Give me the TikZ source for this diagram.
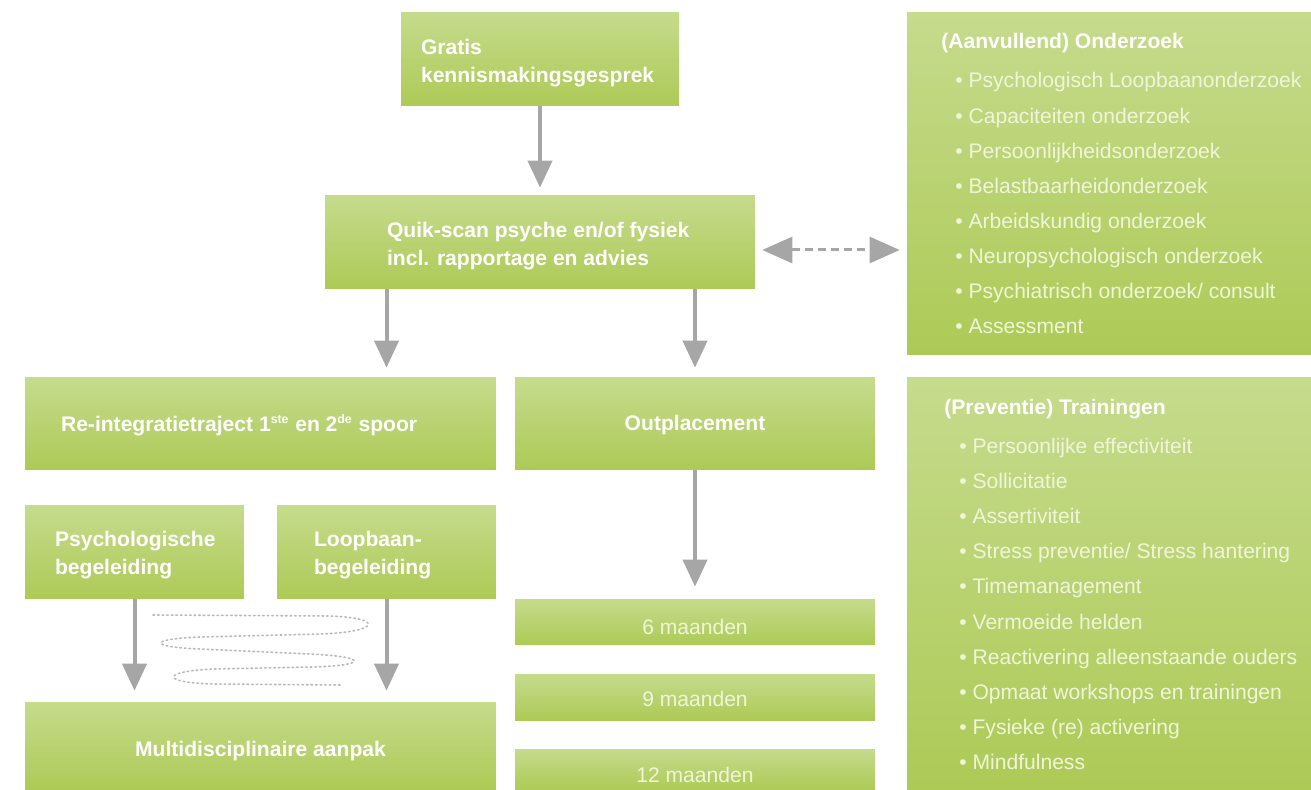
\documentclass[tikz,border=0pt]{standalone}
\usepackage{fontspec}
\setmainfont{Liberation Sans}
\usepackage{tikz}
\usetikzlibrary{arrows.meta,positioning}
\usepackage{xcolor}

\definecolor{boxtop}{RGB}{198,219,141}
\definecolor{boxbot}{RGB}{173,202,86}
\definecolor{arrowgray}{RGB}{166,166,166}
\definecolor{dotgray}{RGB}{185,185,185}
\definecolor{itemcol}{RGB}{240,245,218}

\newcommand{\basefont}{\fontsize{12}{16}\selectfont}

\tikzset{
  greenbox/.style={draw=none, inner sep=0pt, top color=boxtop, bottom color=boxbot},
  headtxt/.style={font=\basefont\bfseries, text=white, align=left, inner sep=0pt},
  lighttxt/.style={font=\basefont, text=itemcol, inner sep=0pt},
  itemtxt/.style={font=\basefont, text=itemcol, inner sep=0pt, anchor=base west},
  flow/.style={draw=arrowgray, line width=0.08cm, -{Triangle[length=0.54cm,width=0.48cm]}},
  dflow/.style={draw=arrowgray, line width=0.06cm, dash pattern=on 0.16cm off 0.1cm,
    {Triangle[length=0.6cm,width=0.52cm]}-{Triangle[length=0.6cm,width=0.52cm]}}
}

\begin{document}
\begin{tikzpicture}[x=0.02cm, y=-0.02cm]

\useasboundingbox (0,0) rectangle (1311,790);

% middle column
\node[greenbox, minimum width=5.56cm, minimum height=1.88cm] (gratis) at (540,59) {};
\node[headtxt, right=0.4cm of gratis.west, yshift=-0.08cm] (gratis-t) {Gratis\\kennismakingsgesprek};

\node[greenbox, minimum width=8.6cm, minimum height=1.88cm] (quik) at (540,242) {};
\node[headtxt, right=1.24cm of quik.west, yshift=-0.08cm] (quik-t) {Quik-scan psyche en/of fysiek\\incl. rapportage en advies};

\node[greenbox, minimum width=9.42cm, minimum height=1.86cm] (reint) at (260.5,423.5) {};
\node[headtxt, right=0.72cm of reint.west, yshift=-0.04cm] (reint-t) {Re-integratietraject 1\textsuperscript{\bfseries\scriptsize ste} en 2\textsuperscript{\bfseries\scriptsize de} spoor};

\node[greenbox, minimum width=7.2cm, minimum height=1.86cm] (outpl) at (695,423.5) {};
\node[headtxt] (outpl-t) at (695,425) {Outplacement};

\node[greenbox, minimum width=4.38cm, minimum height=1.88cm] (psych) at (134.5,552) {};
\node[headtxt, right=0.6cm of psych.west, yshift=-0.06cm] (psych-t) {Psychologische\\begeleiding};

\node[greenbox, minimum width=4.38cm, minimum height=1.88cm] (loopb) at (386.5,552) {};
\node[headtxt, right=0.74cm of loopb.west, yshift=-0.06cm] (loopb-t) {Loopbaan-\\begeleiding};

\node[greenbox, minimum width=9.42cm, minimum height=1.76cm] (multi) at (260.5,746) {};
\node[headtxt] (multi-t) at (260.5,751) {Multidisciplinaire aanpak};

\node[greenbox, minimum width=7.2cm, minimum height=0.92cm] (m6) at (695,622) {};
\node[lighttxt] (m6-t) at (695,627) {6 maanden};
\node[greenbox, minimum width=7.2cm, minimum height=0.92cm] (m9) at (695,697) {};
\node[lighttxt] (m9-t) at (695,699) {9 maanden};
\node[greenbox, minimum width=7.2cm, minimum height=0.82cm] (m12) at (695,769.5) {};
\node[lighttxt] (m12-t) at (695,775) {12 maanden};

% right panels
\node[greenbox, minimum width=8.08cm, minimum height=6.86cm] (onderzoek) at (1109,183.5) {};
\node[headtxt, anchor=base west] (onderzoek-t) at (941,49) {(Aanvullend) Onderzoek};
\foreach \t [count=\i] in {Psychologisch Loopbaanonderzoek, Capaciteiten onderzoek,
    Persoonlijkheidsonderzoek, Belastbaarheidonderzoek, Arbeidskundig onderzoek,
    Neuropsychologisch onderzoek, Psychiatrisch onderzoek/ consult, Assessment}
  \node[itemtxt] (ond-\i) at (955,88+35.1*\i-35.1) {\textbullet\ \t};

\node[greenbox, minimum width=8.08cm, minimum height=8.26cm] (preventie) at (1109,583.5) {};
\node[headtxt, anchor=base west] (preventie-t) at (944,414) {(Preventie) Trainingen};
\foreach \t [count=\i] in {Persoonlijke effectiviteit, Sollicitatie, Assertiviteit,
    Stress preventie/ Stress hantering, Timemanagement, Vermoeide helden,
    Reactivering alleenstaande ouders, Opmaat workshops en trainingen,
    Fysieke (re) activering, Mindfulness}
  \node[itemtxt] (prev-\i) at (959,453+35.2*\i-35.2) {\textbullet\ \t};

% connectors
\draw[flow, shorten >=0.14cm] (gratis.south) -- (quik.north);
\draw[flow, shorten >=0.18cm] (quik.south -| loopb.north) -- (reint.north -| loopb.north);
\draw[flow, shorten >=0.18cm] (quik.south -| outpl.north) -- (outpl.north);
\draw[flow, shorten >=0.24cm] (outpl.south) -- (m6.north);
\draw[flow, shorten >=0.22cm] (psych.south) -- (psych.south |- multi.north);
\draw[flow, shorten >=0.22cm] (loopb.south) -- (loopb.south |- multi.north);
\draw[dflow] ([xshift=0.14cm,yshift=-0.16cm]quik.east) -- ([xshift=-0.14cm,yshift=-0.16cm]quik.east -| onderzoek.west);

% dotted spiral
\draw[dotgray, line width=0.9pt, dash pattern=on 0.9pt off 1.7pt, line cap=round]
  (153,615) -- (330,616) .. controls (385,618) and (380,632) .. (320,634)
  -- (200,637) .. controls (148,639) and (148,647) .. (200,649)
  -- (310,654) .. controls (372,657) and (366,666) .. (310,667)
  -- (215,669) .. controls (160,671) and (160,683) .. (215,684) -- (340,685);

\end{tikzpicture}
\end{document}
